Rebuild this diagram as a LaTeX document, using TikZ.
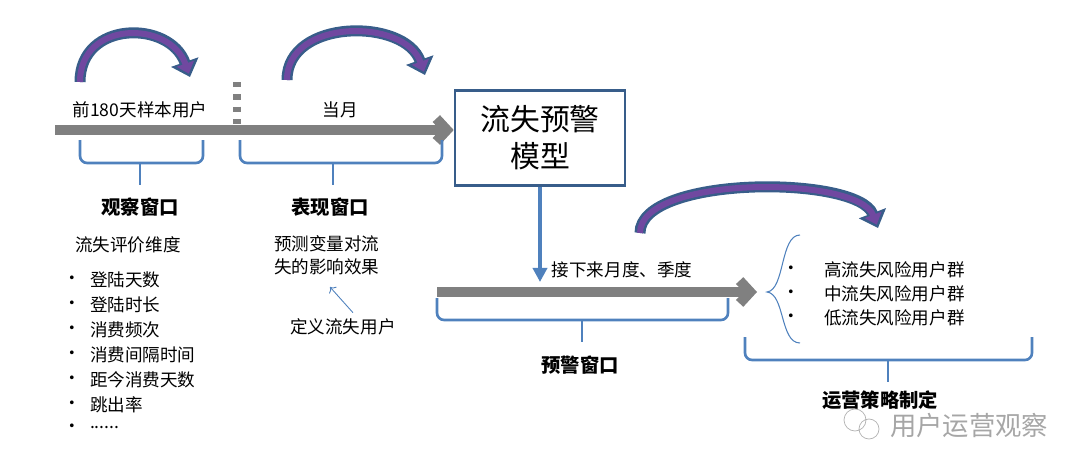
\documentclass[tikz,border=0pt]{standalone}
\usepackage{fontspec}
\setmainfont{Noto Sans CJK SC}
\usetikzlibrary{arrows.meta}
\definecolor{lineblue}{RGB}{79,129,189}
\definecolor{boxblue}{RGB}{56,93,138}
\definecolor{arcpurple}{RGB}{112,72,160}
\definecolor{timegray}{RGB}{128,128,128}
\newcommand\sfP{0.02}
% bracket under a time span: name, left x, right x, top y, bottom y, tip x
\newcommand\spanbracket[6]{
		\draw[bracket] (#2,#4) -- (#2,#5) -- (#6,#5) -- (#3,#5) -- (#3,#4);
		\draw[bracket] (#6,#5) -- (#6,#5 + 22) coordinate (#1);
	}
% curved arrow above a span: left x, right x, base y, top y
\newcommand\swoosh[4]{
		\draw[swooshout] (#1,#3) .. controls (#1,#4) and (#2 - 20,#4) .. (#2,#3 - 5);
		\draw[swooshin] (#1,#3) .. controls (#1,#4) and (#2 - 20,#4) .. (#2,#3 - 5);
	}
\begin{document}
\begin{tikzpicture}[x=\sfP cm,y=-\sfP cm,
		every node/.style={font=\fontsize{10}{13}\selectfont,inner sep=1pt},
		timeline/.style={draw=timegray,line width=10*\sfP cm,-{Straight Barb[length=6pt,width=13pt]}},
		bracket/.style={draw=lineblue,line width=1.5pt,rounded corners=4pt},
		swooshout/.style={draw=boxblue,line width=11*\sfP cm,-{Triangle[length=9pt,width=16pt]}},
		swooshin/.style={draw=arcpurple,line width=6*\sfP cm,-{Triangle[length=6pt,width=10pt]},shorten >=2pt},
		title/.style={font=\fontsize{11}{13}\selectfont\bfseries},
		bullet/.style={anchor=west}]
		\useasboundingbox (0,0) rectangle (1080,470);
		
		% observation and performance windows
		\coordinate (start) at (55,130);
		\node (model) at (540,138) [draw=boxblue,line width=1.5pt,minimum width=170*\sfP cm,minimum height=95*\sfP cm,font=\fontsize{17}{21}\selectfont,align=center] {流失预警\\模型};
		\draw[timeline] (start) -- (model.west |- start);
		\draw[timegray,line width=4pt,dash pattern=on 3pt off 4pt] (237,82) -- (237,126);
		\node (past) at (140,110) {前180天样本用户};
		\node (current) at (340,110) {当月};
		\swoosh{80}{190}{82}{20}
		\swoosh{287}{425}{80}{18}
		\spanbracket{obs}{80}{203}{140}{163}{140}
		\spanbracket{perf}{240}{442}{140}{163}{333}
		\node (obstitle) at (140,207) [title] {观察窗口};
		\node (perftitle) at (330,207) [title] {表现窗口};
		
		% evaluation dimensions
		\node (dims) at (128,245) {流失评价维度};
		\foreach \y/\t in {280/登陆天数,305/登陆时长,330/消费频次,355/消费间隔时间,380/距今消费天数,405/跳出率,428/{......}}
		{
			\node at (72,\y) {•};
			\node[bullet] at (88,\y) {\t};
		}
		\node (effect) at (272,255) [anchor=west,align=left] {预测变量对流\\失的影响效果};
		\node (define) at (343,327) {定义流失用户};
		\draw[lineblue,->,line width=0.5pt] (define.north) ++(10,-4) -- (330,287);
		
		% warning window
		\coordinate (next) at (437,292);
		\coordinate (groups) at (757,292);
		\draw[lineblue,line width=2pt,-{Triangle[length=8pt,width=8pt]}] (model.south) -- (model.south |- 0,282);
		\node (horizon) at (622,270) {接下来月度、季度};
		\draw[timeline] (next) -- (groups);
		\spanbracket{warn}{437}{728}{298}{320}{582}
		\node (warntitle) at (580,365) [title] {预警窗口};
		\swoosh{640}{878}{233}{175}
		
		% risk groups
		\draw[lineblue,line width=0.6pt] (800,235) .. controls (780,235) and (785,290) .. (767,292) .. controls (785,294) and (780,343) .. (800,343);
		\foreach \y/\t in {270/高流失风险用户群,294/中流失风险用户群,318/低流失风险用户群}
		{
			\node at (791,\y) {•};
			\node[bullet] at (822,\y) {\t};
		}
		\spanbracket{ops}{745}{1032}{337}{360}{888}
		\node (opstitle) at (880,400) [title] {运营策略制定};
		\node (mark) at (888,425) [anchor=west,text=gray!70,font=\fontsize{15}{18}\selectfont] {用户运营观察};
		\draw[gray!60] (855,420) circle (11) (869,429) circle (10);
	\end{tikzpicture}
\end{document}
